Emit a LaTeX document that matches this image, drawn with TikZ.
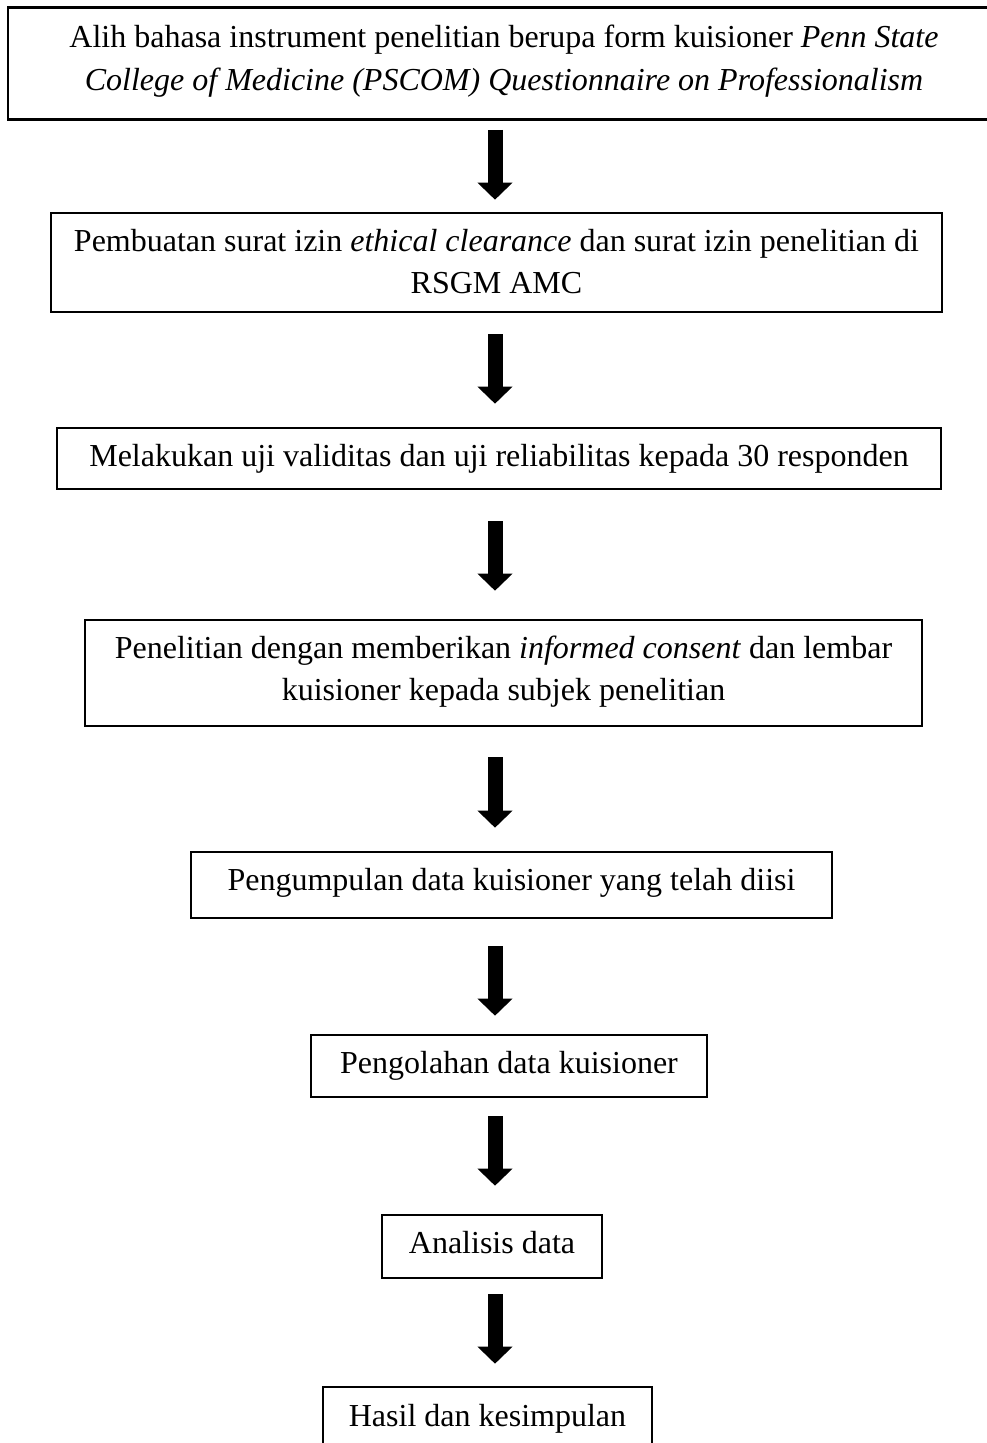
\documentclass[tikz,border=0pt]{standalone}
\usepackage{fontspec}
\setmainfont{Liberation Serif}
\usetikzlibrary{arrows.meta}
\tikzset{
  box/.style={draw=black, line width=2.6pt, rectangle, inner sep=0pt, fill=none},
  txt/.style={anchor=base, inner sep=0pt, font=\fontsize{32}{42}\selectfont},
  bigarrow/.style={line width=15pt, -{Triangle[width=34pt,length=17pt]}},
}
\begin{document}
\begin{tikzpicture}[x=1pt,y=-1pt]
\fill[white] (0,0) rectangle (987,1443);
\clip (0,0) rectangle (987,1443);
\useasboundingbox (0,0) rectangle (987,1443);
\coordinate (ax) at (495,0);
\coordinate (tx) at (504,0);
% boxes
\node[box, minimum width=992pt, minimum height=112pt] (b1) at (504,63.5) {};
\node[box, minimum width=891pt, minimum height=99pt] (b2) at (496.5,262.5) {};
\node[box, minimum width=884pt, minimum height=61pt] (b3) at (499,458.5) {};
\node[box, minimum width=837pt, minimum height=106pt] (b4) at (503.5,673) {};
\node[box, minimum width=641pt, minimum height=66pt] (b5) at (511.5,885) {};
\node[box, minimum width=396pt, minimum height=62pt] (b6) at (509,1066) {};
\node[box, minimum width=220pt, minimum height=63pt] (b7) at (492,1246.5) {};
\node[box, minimum width=329pt, minimum height=62pt] (b8) at (487.5,1418) {};
% texts
\node[txt] (t1a) at ([yshift=-41pt]b1.north -| tx) {Alih bahasa instrument penelitian berupa form kuisioner \textit{Penn State}};
\node[txt] (t1b) at ([yshift=-84pt]b1.north -| tx) {\textit{College of Medicine (PSCOM) Questionnaire on Professionalism}};
\node[txt] (t2a) at ([yshift=-40pt]b2.north) {Pembuatan surat izin \textit{ethical clearance} dan surat izin penelitian di};
\node[txt] (t2b) at ([yshift=-82pt]b2.north) {RSGM AMC};
\node[txt] (t3) at ([yshift=-40pt]b3.north) {Melakukan uji validitas dan uji reliabilitas kepada 30 responden};
\node[txt] (t4a) at ([yshift=-40pt]b4.north) {Penelitian dengan memberikan \textit{informed consent} dan lembar};
\node[txt] (t4b) at ([yshift=-82pt]b4.north) {kuisioner kepada subjek penelitian};
\node[txt] (t5) at ([yshift=-40pt]b5.north) {Pengumpulan data kuisioner yang telah diisi};
\node[txt] (t6) at ([yshift=-40pt]b6.north) {Pengolahan data kuisioner};
\node[txt] (t7) at ([yshift=-40pt]b7.north) {Analisis data};
\node[txt] (t8) at ([yshift=-41pt]b8.north) {Hasil dan kesimpulan};
% arrows
\draw[bigarrow, shorten <=9pt, shorten >=12pt] (b1.south -| ax) -- (b2.north -| ax);
\draw[bigarrow, shorten <=21pt, shorten >=23pt] (b2.south -| ax) -- (b3.north -| ax);
\draw[bigarrow, shorten <=31pt, shorten >=28pt] (b3.south -| ax) -- (b4.north -| ax);
\draw[bigarrow, shorten <=30pt, shorten >=23pt] (b4.south -| ax) -- (b5.north -| ax);
\draw[bigarrow, shorten <=27pt, shorten >=18pt] (b5.south -| ax) -- (b6.north -| ax);
\draw[bigarrow, shorten <=18pt, shorten >=28pt] (b6.south -| ax) -- (b7.north -| ax);
\draw[bigarrow, shorten <=15pt, shorten >=22pt] (b7.south -| ax) -- (b8.north -| ax);
\end{tikzpicture}
\end{document}
